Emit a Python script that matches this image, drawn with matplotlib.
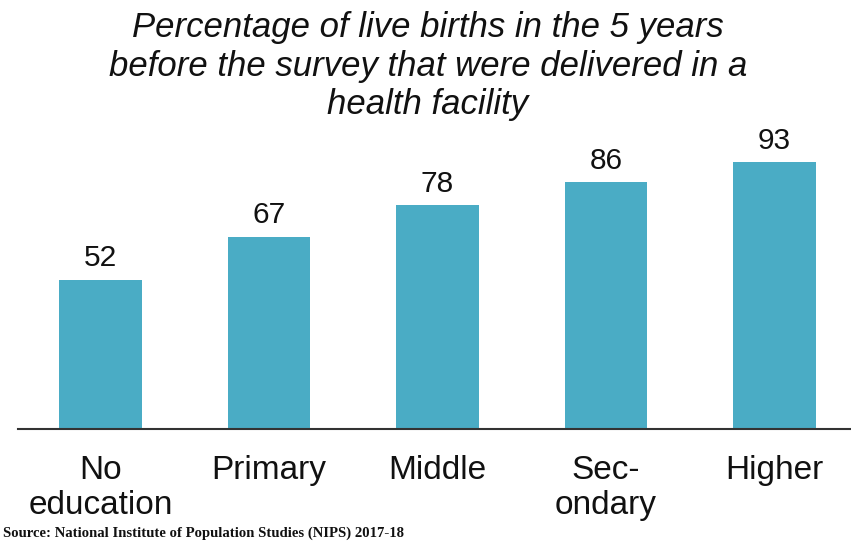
import matplotlib.pyplot as plt

categories = ["No\neducation", "Primary", "Middle", "Sec-\nondary", "Higher"]
values = [52, 67, 78, 86, 93]
title = "Percentage of live births in the 5 years\nbefore the survey that were delivered in a\nhealth facility"
source = "Source: National Institute of Population Studies (NIPS) 2017-18"

bar_color = "#4aacc5"

fig = plt.figure(figsize=(8.51, 5.44), dpi=100)
W, H = 851, 544
# axes box in pixel units: baseline at y=429, 100 units -> ~287 px
left, right = 18, 851
bottom, top = 429, 429 - 286.7
ax = fig.add_axes([left / W, 1 - bottom / H, (right - left) / W, (bottom - top) / H])

x = list(range(len(values)))
ax.bar(x, values, width=0.49, color=bar_color, zorder=2)
ax.set_xlim(-0.49, 4.455)
ax.set_ylim(0, 100)

for xi, v in zip(x, values):
    ax.text(xi, v + 2.6, str(v), ha="center", va="bottom", fontsize=21.5,
            family="Liberation Sans", color="#111111", clip_on=False)

for s in ["top", "right", "left"]:
    ax.spines[s].set_visible(False)
ax.spines["bottom"].set_color("#333333")
ax.spines["bottom"].set_linewidth(1.5)
ax.set_yticks([])
ax.set_xticks(x)
ax.set_xticklabels(categories, fontsize=24, family="Liberation Sans",
                   linespacing=1.2, color="#111111")
ax.tick_params(axis="x", length=0, pad=18.5)

fig.text(428 / W, 1 - 11 / H, title, ha="center", va="top", fontsize=25,
         style="italic", family="Liberation Sans", linespacing=1.22, color="#111111")
fig.text(3 / W, 1 - 533 / H, source, ha="left", va="center", fontsize=10.6,
         weight="bold", family="Liberation Serif", color="#111111")

fig.savefig("out.png", dpi=100)
